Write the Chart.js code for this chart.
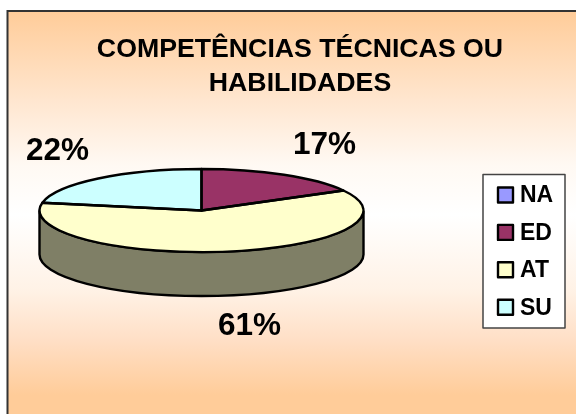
<!DOCTYPE html>
<html><head><meta charset="utf-8">
<style>html,body{margin:0;padding:0;background:#fff}canvas{display:block}</style>
<script src="https://cdn.jsdelivr.net/npm/chart.js@4"></script>
</head><body><canvas id="c" width="576" height="414"></canvas>
<script>
const categories = ['NA','ED','AT','SU'];
const shares = [0,17,61,22];
const colours = ['#9999FF','#993366','#FFFFCC','#CCFFFF'];
const titleLines = ['COMPETÊNCIAS TÉCNICAS OU','HABILIDADES'];
const FONT = '"Liberation Sans", Arial, sans-serif';
const E = {cx:201.5, cy:210.5, rx:162, ry:41.5, depth:44};
const labelPos = [null,[324.5,145],[249.5,326.5],[57.5,151]];

function dark(hex){
  const n=parseInt(hex.slice(1),16);
  return `rgb(${(n>>16)/2|0},${((n>>8)&255)/2|0},${(n&255)/2|0})`;
}
function sector(ctx,a0,a1,dy){ctx.ellipse(E.cx,E.cy+dy,E.rx,E.ry,0,a0,a1);}

const pie3d = {
  id:'pie3d',
  beforeDraw(chart){
    const ctx=chart.ctx;
    const g=ctx.createLinearGradient(0,0,0,414);
    [[11,'#FFCC99'],[100,'#FFE6CF'],[165,'#FFF9F3'],[215,'#FFFFFF'],[290,'#FFF2E6'],[340,'#FFDFC6'],[395,'#FFCC99'],[414,'#FFCC99']]
      .forEach(s=>g.addColorStop(s[0]/414,s[1]));
    ctx.save();
    ctx.fillStyle='#fff';ctx.fillRect(0,0,576,414);
    ctx.fillStyle=g;ctx.fillRect(8,11,568,403);
    ctx.strokeStyle='#333';ctx.lineWidth=2;
    ctx.beginPath();ctx.moveTo(7.5,414);ctx.lineTo(7.5,11);ctx.lineTo(576,11);ctx.stroke();
    ctx.restore();
  },
  beforeDatasetsDraw(chart){
    const ctx=chart.ctx, arcs=chart.getDatasetMeta(0).data;
    ctx.save();
    ctx.lineWidth=2.4;ctx.strokeStyle='#000';
    arcs.forEach((a,i)=>{
      const s=Math.max(a.startAngle,0), e=Math.min(a.endAngle,Math.PI);
      if(e<=s) return;
      ctx.beginPath();
      sector(ctx,s,e,0);
      ctx.ellipse(E.cx,E.cy+E.depth,E.rx,E.ry,0,e,s,true);
      ctx.closePath();
      ctx.fillStyle=dark(colours[i]);
      ctx.fill();ctx.stroke();
    });
    ctx.restore();
    const a=arcs[0];
    ctx.save();
    ctx.translate(E.cx,E.cy);
    ctx.scale(E.rx/a.outerRadius,E.ry/a.outerRadius);
    ctx.translate(-a.x,-a.y);
  },
  afterDatasetsDraw(chart){
    const ctx=chart.ctx, arcs=chart.getDatasetMeta(0).data;
    ctx.restore();
    ctx.save();
    ctx.lineWidth=2.4;ctx.strokeStyle='#000';ctx.lineJoin='round';
    arcs.forEach(a=>{
      if(a.endAngle-a.startAngle<=0) return;
      ctx.beginPath();
      ctx.moveTo(E.cx,E.cy);
      sector(ctx,a.startAngle,a.endAngle,0);
      ctx.closePath();ctx.stroke();
    });
    ctx.fillStyle='#000';ctx.font='bold 31.5px '+FONT;ctx.textAlign='center';ctx.textBaseline='middle';
    shares.forEach((v,i)=>{ if(labelPos[i]) ctx.fillText(v+'%',labelPos[i][0],labelPos[i][1]); });
    // legend
    ctx.fillStyle='#fff';ctx.strokeStyle='#444';ctx.lineWidth=1.5;
    ctx.fillRect(483,174.5,82,153.5);ctx.strokeRect(483,174.5,82,153.5);
    ctx.font='bold 23px '+FONT;ctx.textAlign='left';
    categories.forEach((c,i)=>{
      const y=195+i*37.4;
      ctx.fillStyle=colours[i];ctx.strokeStyle='#000';ctx.lineWidth=2.4;
      ctx.fillRect(498,y-7.5,15,15);ctx.strokeRect(498,y-7.5,15,15);
      ctx.fillStyle='#000';ctx.fillText(c,520,y+1);
    });
    ctx.restore();
  }
};

new Chart(document.getElementById('c'),{
  type:'pie',
  data:{labels:categories,datasets:[{data:shares,backgroundColor:colours,borderWidth:0,clip:false}]},
  options:{
    responsive:false,animation:false,
    layout:{padding:{left:24,right:0,top:33,bottom:0}},
    plugins:{
      legend:{display:false},tooltip:{enabled:false},
      title:{display:true,text:titleLines,color:'#000',font:{family:FONT,size:26.7,weight:'bold',lineHeight:1.266},padding:{top:0,bottom:4}}
    }
  },
  plugins:[pie3d]
});
</script></body></html>
